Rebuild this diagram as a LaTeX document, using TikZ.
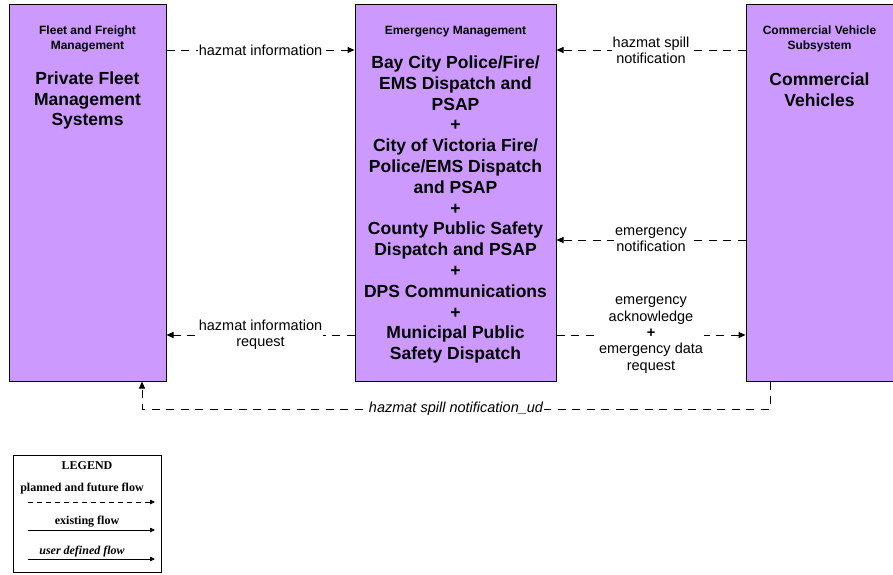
\documentclass[tikz,border=0pt]{standalone}
\usepackage{fontspec}
\setmainfont{Liberation Sans}
\newfontfamily\legfont{Liberation Serif}
\usetikzlibrary{arrows.meta}
\definecolor{boxfill}{HTML}{CC99FF}
\begin{document}
\begin{tikzpicture}[x=1pt,y=-1pt,
  sysbox/.style={draw=black, line width=1pt, fill=boxfill, inner sep=0pt},
  ttl/.style={font=\bfseries\fontsize{12}{15}\selectfont, align=center, inner sep=0pt},
  big/.style={font=\bfseries\fontsize{17.5}{20.8}\selectfont, align=center, inner sep=0pt},
  flow/.style={line width=1pt, dash pattern=on 8pt off 6.5pt, -{Triangle[length=7pt,width=6pt]}},
  lbl/.style={fill=white, font=\fontsize{14.5}{16.3}\selectfont, align=center, inner sep=1pt},
  lblud/.style={fill=white, font=\itshape\fontsize{14.5}{16.3}\selectfont, align=center, inner sep=1pt},
  legtxt/.style={font=\legfont\bfseries\fontsize{12}{14}\selectfont, inner sep=0pt},
  legitx/.style={font=\legfont\bfseries\itshape\fontsize{12}{14}\selectfont, inner sep=0pt},
  legline/.style={line width=0.8pt, -{Triangle[length=5pt,width=4.5pt]}},
]
\useasboundingbox (0,0) rectangle (893,574);

% system boxes
\node[sysbox, minimum width=157pt, minimum height=377pt] (PF) at (87.5,192.5) {};
\node[sysbox, minimum width=201pt, minimum height=377pt] (EM) at (455.5,192.5) {};
\node[sysbox, minimum width=148pt, minimum height=377pt] (CV) at (820,192.5) {};

% box texts
\node[ttl] (PFt) at (87.5,38.5) {Fleet and Freight\\Management};
\node[big] (PFn) at (87.5,100.5) {Private Fleet\\Management\\Systems};
\node[ttl] (EMt) at (455.5,31.5) {Emergency Management};
\node[big] (EMn) at (455.5,209.5) {Bay City Police/Fire/\\EMS Dispatch and\\PSAP\\+\\City of Victoria Fire/\\Police/EMS Dispatch\\and PSAP\\+\\County Public Safety\\Dispatch and PSAP\\+\\DPS Communications\\+\\Municipal Public\\Safety Dispatch};
\node[ttl] (CVt) at (819.5,38.5) {Commercial Vehicle\\Subsystem};
\node[big] (CVn) at (819.5,89.5) {Commercial\\Vehicles};

% flow levels
\coordinate (ya) at (0,50);
\coordinate (yb) at (0,240);
\coordinate (yc) at (0,335);

\draw[flow] (PF.east |- ya) -- node[lbl] (f1) {hazmat information} (EM.west |- ya);
\draw[flow] (CV.west |- ya) -- node[lbl] (f2) {hazmat spill\\notification} (EM.east |- ya);
\draw[flow] (CV.west |- yb) -- node[lbl] (f3) {emergency\\notification} (EM.east |- yb);
\draw[flow] (EM.east |- yc) -- node[lbl] (f4) {emergency\\acknowledge\\\textbf{+}\\emergency data\\request} (CV.west |- yc);
\draw[flow] (EM.west |- yc) -- node[lbl] (f5) {hazmat information\\request} (PF.east |- yc);

\coordinate (udR) at (770,409);
\coordinate (udL) at (142,409);
\draw[flow] (CV.south -| udR) -- (udR) -- node[lblud] (f6) {hazmat spill notification\_ud} (udL) -- (PF.south -| udL);

% legend
\node[draw=black, line width=1pt, minimum width=148pt, minimum height=117pt, inner sep=0pt] (LG) at (87,513.5) {};
\node[legtxt] (LGt) at (87,466) {LEGEND};
\node[legtxt] (LG1) at (82,488.5) {planned and future flow};
\coordinate (l1a) at (28,502);
\coordinate (l1b) at (155,502);
\draw[legline, dash pattern=on 5pt off 4pt] (l1a) -- (l1b);
\node[legtxt] (LG2) at (87,522) {existing flow};
\coordinate (l2a) at (28,530);
\coordinate (l2b) at (155,530);
\draw[legline] (l2a) -- (l2b);
\node[legitx] (LG3) at (82,551.5) {user defined flow};
\coordinate (l3a) at (28,559);
\coordinate (l3b) at (155,559);
\draw[legline] (l3a) -- (l3b);
\end{tikzpicture}
\end{document}
